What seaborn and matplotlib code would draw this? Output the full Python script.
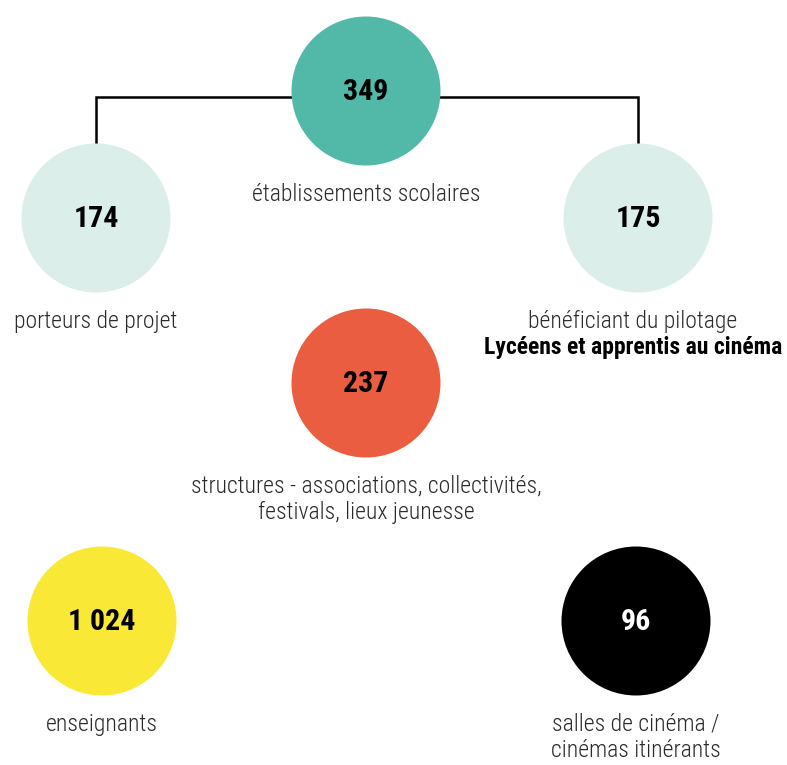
import numpy as np
import pandas as pd
import matplotlib.pyplot as plt
import seaborn as sns
from matplotlib import font_manager

# data
values = ['349', '174', '175', '237', '1 024', '96']
groups = ['etab', 'porteurs', 'pilotage', 'structures', 'enseignants', 'salles']
captions = [
    ['établissements scolaires'],
    ['porteurs de projet'],
    ['bénéficiant du pilotage'],
    ['structures - associations, collectivités,', 'festivals, lieux jeunesse'],
    ['enseignants'],
    ['salles de cinéma /', 'cinémas itinérants'],
]
bold_note = 'Lycéens et apprentis au cinéma'
colors = ['#52b9a9', '#dbeee9', '#dbeee9', '#ea5d40', '#f9e835', '#000000']
num_colors = ['black', 'black', 'black', 'black', 'black', 'white']

# layout (pixel-like units, y downward)
pos_x = [366, 96, 638, 366, 102, 636]
pos_y = [91, 218, 218, 383, 621, 621]
radius = 74.5

sns.set_theme(style='white')
installed = {f.name for f in font_manager.fontManager.ttflist}
fam = ['Roboto Condensed'] if 'Roboto Condensed' in installed else []
plt.rcParams['font.family'] = fam + ['Roboto', 'DejaVu Sans']

W, H = 787, 765
fig = plt.figure(figsize=(W / 100, H / 100), dpi=100)
ax = fig.add_axes([0, 0, 1, 1])
ax.set_xlim(0, W)
ax.set_ylim(H, 0)
ax.axis('off')

df = pd.DataFrame({'x': pos_x, 'y': pos_y, 'group': groups})

# connector lines
ax.plot([pos_x[1], pos_x[1], pos_x[2], pos_x[2]],
        [pos_y[1] - radius, 97, 97, pos_y[2] - radius],
        color='black', lw=1.8, zorder=1, solid_joinstyle='miter')

diam_pt = 2 * radius * 72 / 100
sns.scatterplot(data=df, x='x', y='y', hue='group', palette=dict(zip(groups, colors)),
                s=diam_pt ** 2, linewidth=0, legend=False, ax=ax, zorder=2)

stretch = 'normal' if fam else 'condensed'
for i, v in enumerate(values):
    ax.text(pos_x[i], pos_y[i] + 1, v, ha='center', va='center', fontsize=21.5,
            fontweight='bold', color=num_colors[i], zorder=3, fontstretch=stretch)
    for j, line in enumerate(captions[i]):
        ax.text(pos_x[i] if i != 2 else 633, pos_y[i] + radius + 29 + j * 26, line,
                ha='center', va='center', fontsize=17, fontweight='light',
                color='#2a2a2a', zorder=3, fontstretch=stretch)

ax.text(633, pos_y[2] + radius + 55, bold_note, ha='center', va='center', fontsize=17,
        fontweight='bold', color='black', fontstretch=stretch)

fig.savefig('out.png', dpi=100, facecolor='white')
